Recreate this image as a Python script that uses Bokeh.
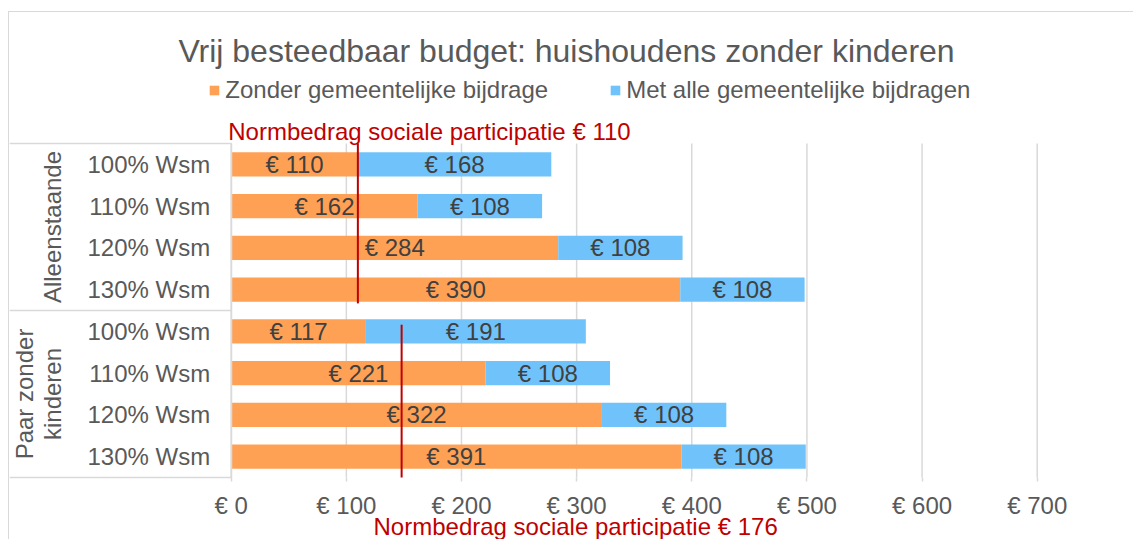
import math
from bokeh.plotting import figure
from bokeh.models import (Range1d, FixedTicker, Legend, LegendItem, Label, LinearAxis,
                          ColumnDataSource)
from bokeh.core.properties import value
from bokeh.embed import file_html
from bokeh.resources import INLINE

# ---------------- data ----------------
title_text = "Vrij besteedbaar budget: huishoudens zonder kinderen"
groups = ["Alleenstaande", "Paar zonder\nkinderen"]
group_centers = [1.5, 5.5]
levels = ["100% Wsm", "110% Wsm", "120% Wsm", "130% Wsm"]
series_names = ["Zonder gemeentelijke bijdrage", "Met alle gemeentelijke bijdragen"]
zonder = [110, 162, 284, 390, 117, 221, 322, 391]
met = [168, 108, 108, 108, 191, 108, 108, 108]
x_ticks = [0, 100, 200, 300, 400, 500, 600, 700]
norm_amounts = [110, 176]          # amounts named in the red labels
norm_line_x = [110, 148]           # where the red lines are drawn
norm_line_y0 = [-0.5, 3.84]        # row extent of each red line
norm_line_y1 = [3.33, 7.5]

# ---------------- style ----------------
FONT = "Liberation Sans"
GREY = "#595959"
LABEL_GREY = "#404040"
LINE_GREY = "#d9d9d9"
ORANGE = "#FFA155"
BLUE = "#6FC3FA"
RED = "#C00000"

rows = list(range(len(zonder)))
totals = [a + b for a, b in zip(zonder, met)]
row_lo, row_hi = -0.5, len(rows) - 0.5

p = figure(width=1125, height=528, output_backend="svg", toolbar_location=None,
           x_range=Range1d(-192.55, 784.5), y_range=Range1d(9.009, -3.6377),
           min_border=0)
p.outline_line_color = None
p.background_fill_color = "white"
p.border_fill_color = "white"
p.styles = {"margin-left": "8px", "margin-top": "11px",
            "border-left": "1px solid #d9d9d9", "border-top": "1px solid #d9d9d9"}

p.xgrid.visible = False
p.ygrid.visible = False

# vertical gridlines of the value axis, limited to the plot area
p.segment(x0=x_ticks, y0=[row_lo] * len(x_ticks), x1=x_ticks, y1=[row_hi] * len(x_ticks),
          line_color=LINE_GREY, line_width=1.5)

# x axis drawn at the bottom of the plot area
xa = p.xaxis[0]
xa.fixed_location = row_hi
xa.ticker = FixedTicker(ticks=x_ticks)
xa.major_label_overrides = {t: f"€ {t}" for t in x_ticks}
xa.axis_line_color = None
xa.major_tick_out = 4
xa.major_tick_in = 0
xa.major_tick_line_color = LINE_GREY
xa.major_tick_line_width = 1.5
xa.minor_tick_line_color = None
xa.major_label_text_font = FONT
xa.major_label_text_font_size = "24px"
xa.major_label_text_color = GREY
xa.major_label_standoff = 11

# y axis (inner categories) with table lines drawn as long minor ticks
ya = p.yaxis[0]
ya.fixed_location = 0
ya.bounds = (row_lo, row_hi)
ya.ticker = FixedTicker(ticks=rows, minor_ticks=[row_lo, 3.5, row_hi])
ya.major_label_overrides = {r: levels[r % 4] for r in rows}
ya.axis_line_color = LINE_GREY
ya.axis_line_width = 1.5
ya.major_tick_line_color = None
ya.major_tick_out = 0
ya.major_tick_in = 0
ya.minor_tick_out = 222
ya.minor_tick_in = 0
ya.minor_tick_line_color = LINE_GREY
ya.minor_tick_line_width = 1.5
ya.major_label_text_font = FONT
ya.major_label_text_font_size = "24px"
ya.major_label_text_color = GREY
ya.major_label_standoff = 21 - 222

# outer group axis
ga = LinearAxis(ticker=FixedTicker(ticks=group_centers), fixed_location=-124.5,
                major_label_overrides={c: g for c, g in zip(group_centers, groups)})
ga.axis_line_color = None
ga.major_tick_line_color = None
ga.major_tick_out = 0
ga.major_tick_in = 0
ga.minor_tick_line_color = None
ga.minor_tick_out = 0
ga.minor_tick_in = 0
ga.major_label_orientation = "parallel"
ga.major_label_text_font = FONT
ga.major_label_text_font_size = "24px"
ga.major_label_text_color = GREY
ga.major_label_text_line_height = 1.04
ga.major_label_standoff = 22
p.add_layout(ga, "left")

# bars
src = ColumnDataSource(dict(
    y=rows, zonder=zonder, total=totals,
    zx=[v / 2 for v in zonder],
    mx=[a + b / 2 for a, b in zip(zonder, met)],
    zt=[f"€ {v}" for v in zonder],
    mt=[f"€ {v}" for v in met],
))
r1 = p.hbar(y="y", left=0, right="zonder", height=0.575, source=src,
            fill_color=ORANGE, line_color=None)
r2 = p.hbar(y="y", left="zonder", right="total", height=0.575, source=src,
            fill_color=BLUE, line_color=None)

p.text(x="zx", y="y", text="zt", source=src,
       text_font=value(FONT), text_font_size="24px", text_color=LABEL_GREY,
       text_align="center", text_baseline="middle")
p.text(x="mx", y="y", text="mt", source=src,
       text_font=value(FONT), text_font_size="24px", text_color=LABEL_GREY,
       text_align="center", text_baseline="middle")

# normbedrag lines and labels
p.segment(x0=norm_line_x, y0=norm_line_y0, x1=norm_line_x, y1=norm_line_y1,
          line_color=RED, line_width=2)
p.add_layout(Label(x=-2.6, y=-0.78, text=f"Normbedrag sociale participatie € {norm_amounts[0]}",
                   text_font=FONT, text_font_size="24px", text_color=RED,
                   text_align="left", text_baseline="middle"))
p.add_layout(Label(x=123.6, y=8.674, text=f"Normbedrag sociale participatie € {norm_amounts[1]}",
                   text_font=FONT, text_font_size="24px", text_color=RED,
                   text_align="left", text_baseline="middle"))

# title
p.add_layout(Label(x=291.2, y=-2.704, text=title_text, text_font=FONT,
                   text_font_size="32px", text_color=GREY,
                   text_align="center", text_baseline="middle"))

# legend
legend = Legend(items=[LegendItem(label=series_names[0], renderers=[r1]),
                       LegendItem(label=series_names[1], renderers=[r2])],
                location=(199.3, 436.5), orientation="horizontal",
                border_line_color=None, background_fill_alpha=0,
                padding=0, margin=0, spacing=61,
                glyph_width=12, glyph_height=12, label_standoff=5,
                label_text_font=FONT, label_text_font_size="24px",
                label_text_color=GREY)
p.add_layout(legend, "center")

open("out.html", "w").write(file_html(p, INLINE))
